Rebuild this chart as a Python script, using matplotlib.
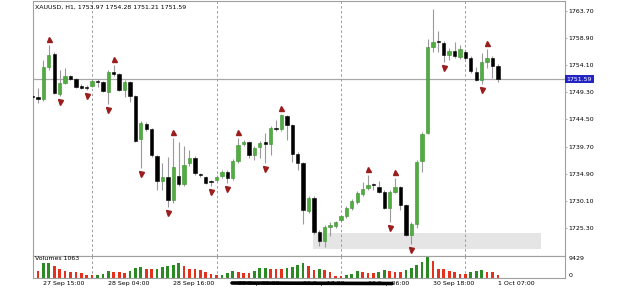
import matplotlib
matplotlib.use("Agg")
import matplotlib.pyplot as plt
import matplotlib.transforms as mtransforms
from matplotlib.patches import Rectangle
from matplotlib.lines import Line2D

# ---------------- data ----------------
title_text = "XAUUSD, H1, 1753.97 1754.28 1751.21 1751.59"
first_bar = -1  # bar index of the first (partly hidden) candle

opens = [1748.57, 1748.53, 1748.13, 1753.79, 1756.09, 1749.01, 1751.01, 1752.14, 1751.61, 1750.34,
         1750.31, 1750.48, 1751.40, 1751.08, 1749.42, 1752.85, 1752.50, 1749.72, 1751.19, 1748.66,
         1741.05, 1743.70, 1742.82, 1738.04, 1733.61, 1734.32, 1730.25, 1734.50, 1733.08, 1736.80,
         1737.68, 1734.77, 1734.32, 1733.52, 1733.88, 1734.50, 1735.21, 1734.14, 1737.15, 1740.16,
         1740.52, 1738.22, 1739.63, 1740.52, 1740.16, 1742.99, 1742.82, 1745.12, 1743.53, 1738.39,
         1736.80, 1728.30, 1730.60, 1724.59, 1722.99, 1725.47, 1725.65, 1726.71, 1727.42, 1728.83,
         1729.90, 1731.31, 1732.38, 1732.99, 1732.55, 1731.67, 1728.83, 1731.67, 1732.55, 1729.37,
         1724.05, 1726.00, 1737.15, 1742.11, 1757.33, 1758.30, 1758.04, 1755.92, 1756.62, 1755.56,
         1756.45, 1755.38, 1752.91, 1751.49, 1754.68, 1755.38, 1753.97]
highs = [1748.84, 1750.07, 1755.03, 1757.69, 1756.45, 1753.26, 1753.61, 1752.38, 1751.84, 1750.78,
         1750.60, 1751.67, 1751.67, 1751.31, 1753.26, 1754.15, 1752.73, 1751.49, 1751.31, 1748.84,
         1744.23, 1744.06, 1742.99, 1738.22, 1736.80, 1737.86, 1741.24, 1740.52, 1739.81, 1739.10,
         1738.04, 1735.03, 1734.50, 1733.79, 1734.68, 1735.56, 1735.56, 1737.51, 1741.24, 1740.87,
         1740.69, 1739.81, 1740.69, 1742.11, 1743.35, 1744.41, 1745.47, 1745.30, 1743.70, 1738.75,
         1736.97, 1730.96, 1730.96, 1724.94, 1725.83, 1726.36, 1726.53, 1727.60, 1729.19, 1730.43,
         1731.84, 1733.44, 1734.68, 1733.26, 1733.61, 1732.02, 1732.02, 1734.14, 1732.73, 1729.54,
         1726.36, 1737.33, 1742.29, 1758.75, 1764.06, 1760.16, 1758.39, 1757.15, 1758.22, 1757.69,
         1756.80, 1755.74, 1753.79, 1756.27, 1756.98, 1755.74, 1754.28]
lows = [1748.13, 1747.42, 1747.77, 1753.26, 1749.01, 1748.66, 1750.78, 1751.49, 1750.07, 1749.90,
        1749.72, 1750.25, 1750.25, 1749.37, 1747.24, 1752.20, 1749.54, 1748.48, 1747.65, 1740.52,
        1735.91, 1742.46, 1737.86, 1732.02, 1732.02, 1729.06, 1729.72, 1732.73, 1732.73, 1736.27,
        1734.68, 1734.32, 1733.08, 1732.81, 1733.61, 1734.14, 1733.26, 1733.79, 1736.80, 1739.81,
        1737.68, 1737.33, 1737.68, 1736.80, 1738.22, 1742.46, 1742.46, 1740.87, 1736.97, 1735.56,
        1726.00, 1727.95, 1724.23, 1722.11, 1721.93, 1723.88, 1725.29, 1726.36, 1727.06, 1728.48,
        1729.54, 1730.96, 1732.02, 1732.02, 1731.49, 1728.66, 1726.36, 1731.49, 1728.48, 1723.88,
        1722.46, 1725.29, 1735.21, 1741.93, 1756.45, 1756.45, 1754.68, 1755.03, 1755.38, 1755.21,
        1755.03, 1752.73, 1751.31, 1750.78, 1753.61, 1751.84, 1751.21]
closes = [1748.48, 1748.13, 1753.84, 1755.92, 1749.14, 1751.01, 1752.20, 1751.72, 1750.31, 1750.16,
          1750.07, 1751.37, 1751.22, 1749.60, 1752.96, 1752.60, 1749.72, 1751.19, 1748.66, 1740.69,
          1743.88, 1742.82, 1738.22, 1733.61, 1734.32, 1730.25, 1736.14, 1733.08, 1736.44, 1737.68,
          1735.03, 1734.59, 1733.26, 1733.35, 1734.32, 1735.21, 1734.14, 1737.15, 1739.99, 1740.52,
          1738.22, 1739.45, 1740.34, 1740.16, 1742.99, 1742.82, 1745.30, 1743.53, 1738.39, 1736.80,
          1728.48, 1730.60, 1724.59, 1722.99, 1725.47, 1725.83, 1726.36, 1727.42, 1728.83, 1730.07,
          1731.49, 1732.20, 1732.91, 1732.82, 1731.67, 1728.83, 1731.67, 1732.55, 1729.37, 1724.05,
          1726.00, 1736.98, 1741.93, 1757.33, 1758.22, 1758.13, 1755.92, 1756.62, 1755.74, 1756.98,
          1755.38, 1753.08, 1751.49, 1754.68, 1755.38, 1753.97, 1751.59]
volumes = [3143, 3143, 6466, 6550, 5253, 3906, 3008, 2694, 2425, 2245, 1212, 1150, 1250, 1661,
           3008, 2694, 2425, 1976, 3143, 4221, 4670, 3906, 3850, 3950, 4939, 5388, 5702, 6466,
           5253, 3906, 3850, 3457, 2694, 1661, 1212, 1300, 2245, 3008, 2694, 2245, 2200, 3143,
           4490, 4550, 3906, 3850, 3771, 4490, 4939, 5702, 6600, 5029, 3680, 3996, 3233, 2425,
           763, 720, 1212, 1661, 3008, 2425, 2245, 2200, 2694, 3457, 3143, 2694, 2650, 3457,
           4221, 5702, 6915, 9429, 7498, 3771, 3700, 3143, 2694, 1661, 1600, 2425, 3143, 3457,
           2694, 2425, 1063]

fractal_up = [2, 14, 25, 37, 45, 61, 66, 83]
fractal_down = [4, 9, 13, 19, 24, 32, 35, 42, 65, 69, 75, 82]
day_separators = [10, 33, 56, 79]
xtick_bars = [1, 13, 25, 37, 49, 61, 73, 85]
xtick_labels = ["27 Sep 15:00", "28 Sep 04:00", "28 Sep 16:00", "29 Sep 05:00",
                "29 Sep 17:00", "30 Sep 06:00", "30 Sep 18:00", "1 Oct 07:00"]
price_ticks = [1763.70, 1758.90, 1754.10, 1749.30, 1744.50, 1739.70, 1734.90, 1730.10, 1725.30]
current_price = 1751.59
zone_bars = [50.8, 93.0]
zone_prices = [1721.58, 1724.41]
volume_max = 9429
volume_label = "Volumes 1063"

# ---------------- style ----------------
W, H = 625, 289
GREEN = "#4fae3f"
GREEN_EDGE = "#3b8f2f"
WICK = "#9a9a9a"
VOL_UP = "#2b8a24"
VOL_DN = "#e2321e"
ARROW = "#9b1d1d"
FRAME = "#a0a0a0"
FS = 4.5

fig = plt.figure(figsize=(W / 100, H / 100), dpi=100)
fig.patch.set_facecolor("white")

ax = fig.add_axes([33 / W, (H - 255.5) / H, 532 / W, 254.5 / H])
axv = fig.add_axes([33 / W, (H - 278) / H, 532 / W, 22.5 / H], sharex=ax)

xs = [first_bar + k for k in range(len(opens))]

# zone rectangle
ax.add_patch(Rectangle((zone_bars[0], zone_prices[0]), zone_bars[1] - zone_bars[0],
                       zone_prices[1] - zone_prices[0], facecolor="#e5e5e5",
                       edgecolor="none", zorder=0))

# candles
ax.vlines(xs, lows, highs, colors=WICK, linewidth=0.8, zorder=2)
bw = 0.62
for x, o, c in zip(xs, opens, closes):
    up = c > o
    bottom = min(o, c)
    hgt = max(abs(c - o), 0.18)
    ax.add_patch(Rectangle((x - bw / 2, bottom), bw, hgt,
                           facecolor=GREEN if up else "black",
                           edgecolor=GREEN_EDGE if up else "black",
                           linewidth=0.4, zorder=3))

# fractal arrows
off_up = mtransforms.offset_copy(ax.transData, fig=fig, x=0, y=6, units="dots")
off_dn = mtransforms.offset_copy(ax.transData, fig=fig, x=0, y=-6, units="dots")
ax.plot(fractal_up, [highs[i - first_bar] for i in fractal_up], linestyle="none",
        marker="^", markersize=3.6, color=ARROW, transform=off_up, zorder=4, clip_on=False)
ax.plot(fractal_down, [lows[i - first_bar] for i in fractal_down], linestyle="none",
        marker="v", markersize=3.6, color=ARROW, transform=off_dn, zorder=4, clip_on=False)

# current price line + day separators
ax.axhline(current_price, color="#a8a8a8", linewidth=0.9, zorder=1)
for d in day_separators:
    for a in (ax, axv):
        a.axvline(d, color="#9a9a9a", linewidth=0.7, linestyle=(0, (2.5, 2.5)), zorder=1)

ax.set_xlim(-0.924, 97.41)
ax.set_ylim(1720.43, 1765.47)

# axes styling
for a in (ax, axv):
    for s in a.spines.values():
        s.set_color(FRAME)
        s.set_linewidth(0.8)
    a.set_facecolor("white")

ax.yaxis.tick_right()
ax.set_yticks(price_ticks)
ax.set_yticklabels([f"{p:.2f}" for p in price_ticks])
ax.tick_params(axis="y", length=1.5, width=0.6, color=FRAME, pad=1.0, labelsize=FS)
ax.tick_params(axis="x", bottom=False, labelbottom=False)

# current price label
tr = mtransforms.blended_transform_factory(ax.transAxes, ax.transData)
ax.text(1.003, current_price, f"{current_price:.2f}", transform=tr, ha="left", va="center",
        fontsize=FS, color="white",
        bbox=dict(boxstyle="square,pad=0.25", facecolor="#2424c4", edgecolor="none"),
        zorder=10, clip_on=False)

# title
ax.text(0.003, 0.985, title_text, transform=ax.transAxes, ha="left", va="top",
        fontsize=FS, color="black")

# volumes
vcolors = []
for k, v in enumerate(volumes):
    if k > 0 and v > volumes[k - 1]:
        vcolors.append(VOL_UP)
    else:
        vcolors.append(VOL_DN)
axv.bar(xs, volumes, width=0.5, color=vcolors, zorder=2)
axv.set_ylim(-135, volume_max * 1.057)
axv.yaxis.tick_right()
axv.set_yticks([0, volume_max])
axv.set_yticklabels(["0", str(volume_max)])
axv.tick_params(axis="y", length=0, pad=2.5, labelsize=FS)
for lbl in axv.get_yticklabels():
    if lbl.get_text() == "0":
        lbl.set_transform(lbl.get_transform() + mtransforms.ScaledTranslation(0, 3 / 100, fig.dpi_scale_trans))
    else:
        lbl.set_transform(lbl.get_transform() + mtransforms.ScaledTranslation(0, -1.5 / 100, fig.dpi_scale_trans))
axv.text(0.003, 0.97, volume_label, transform=axv.transAxes, ha="left", va="top",
         fontsize=FS, color="black")

axv.set_xticks(xtick_bars)
axv.set_xticklabels(xtick_labels, ha="left")
axv.tick_params(axis="x", length=0, pad=2, labelsize=FS)

# scribble line over the time axis
fig.add_artist(Line2D([232 / W, 392 / W], [1 - 283 / H, 1 - 283.5 / H],
                      color="black", linewidth=2.6, solid_capstyle="round"))

fig.savefig("out.png", dpi=100)
